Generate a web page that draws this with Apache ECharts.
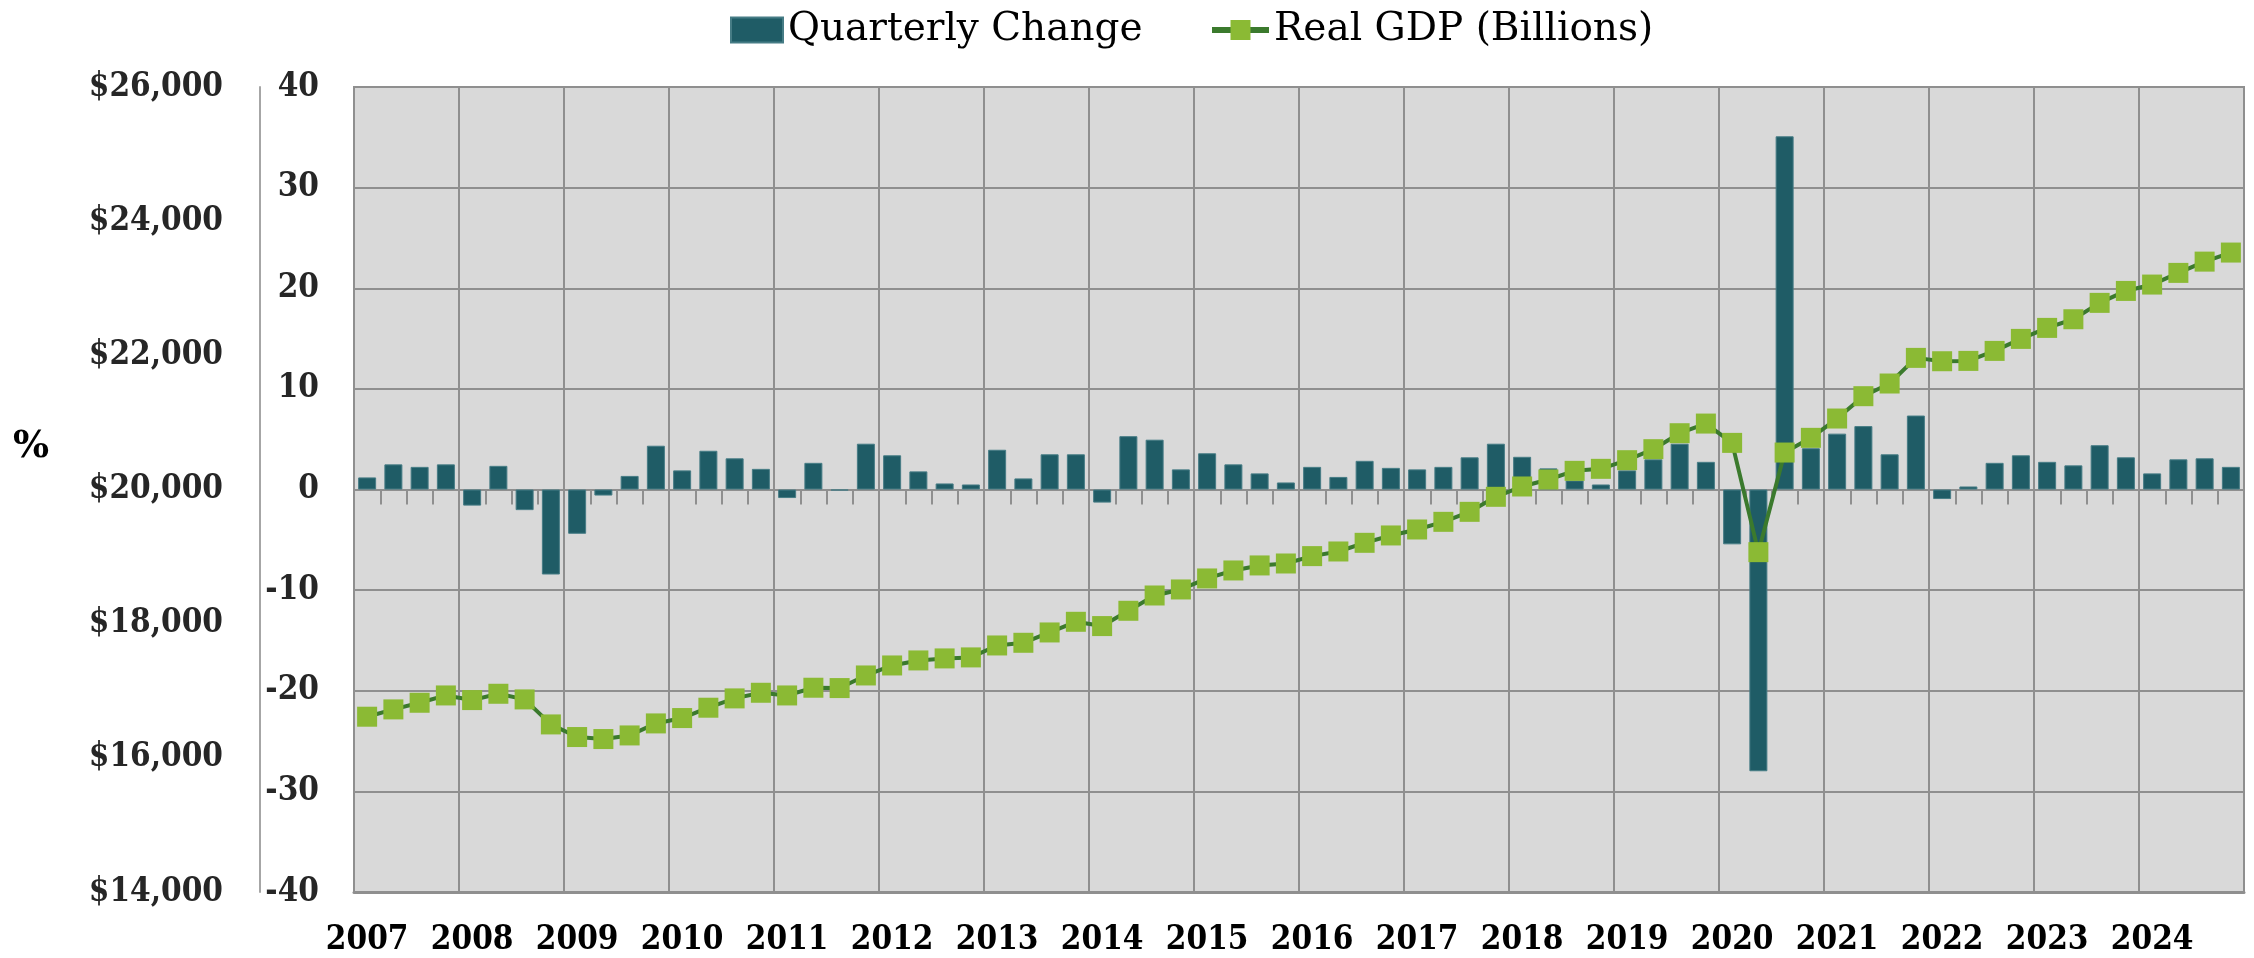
<!DOCTYPE html>
<html>
<head>
<meta charset="utf-8">
<script src="https://cdn.jsdelivr.net/npm/echarts@6/dist/echarts.min.js"></script>
<style>
  html, body { margin: 0; padding: 0; background: #fff; }
  #chart { width: 2254px; height: 958px; }
</style>
</head>
<body>
<div id="chart"></div>
<script>
const years = ["2007", "2008", "2009", "2010", "2011", "2012", "2013", "2014", "2015",
  "2016", "2017", "2018", "2019", "2020", "2021", "2022", "2023", "2024"];
const quarterNames = ["Q1", "Q2", "Q3", "Q4"];

// annualized quarterly change, %
const quarterlyChange = [
  1.2, 2.5, 2.25, 2.5,
  -1.6, 2.35, -2.05, -8.45,
  -4.4, -0.6, 1.35, 4.35,
  1.9, 3.85, 3.1, 2.05,
  -0.85, 2.65, -0.1, 4.55,
  3.4, 1.8, 0.6, 0.5,
  3.95, 1.1, 3.5, 3.5,
  -1.3, 5.3, 4.95, 2.0,
  3.6, 2.5, 1.6, 0.7,
  2.25, 1.25, 2.85, 2.15,
  2.0, 2.25, 3.2, 4.55,
  3.25, 2.1, 0.9, 0.5,
  1.9, 3.0, 4.55, 2.75,
  -5.45, -28.0, 35.1, 4.1,
  5.55, 6.3, 3.5, 7.35,
  -0.95, 0.3, 2.65, 3.4,
  2.75, 2.4, 4.4, 3.2,
  1.6, 3.0, 3.1, 2.25,
];

// real GDP, billions of dollars
const realGdp = [
  16613, 16722, 16821, 16930,
  16861, 16955, 16871, 16498,
  16310, 16280, 16334, 16513,
  16593, 16747, 16886, 16970,
  16930, 17045, 17040, 17228,
  17377, 17452, 17482, 17497,
  17675, 17715, 17869, 18028,
  17964, 18192, 18420, 18510,
  18674, 18793, 18868, 18897,
  19007, 19076, 19205, 19315,
  19404, 19518, 19667, 19891,
  20045, 20149, 20278, 20308,
  20437, 20601, 20839, 20983,
  20695, 19066, 20551, 20770,
  21058, 21391, 21580, 21962,
  21912, 21917, 22066, 22245,
  22409, 22538, 22782, 22960,
  23055, 23229, 23397, 23532,
];

const quarters = years.flatMap((y) => quarterNames.map((q) => `${y} ${q}`));

const gridColor = "#8f8f8f";
const labelFont = {
  fontFamily: "'DejaVu Serif Condensed', 'DejaVu Serif'",
  fontWeight: "bold",
  fontSize: 33,
};
const legendText = {
  fontFamily: "DejaVu Serif",
  fontSize: 39,
  color: "#000",
  lineHeight: 40,
};

const chart = echarts.init(document.getElementById("chart"));

chart.setOption({
  animation: false,
  title: {
    text: "%",
    left: 13,
    top: 428,
    padding: 0,
    textStyle: { fontFamily: "DejaVu Serif", fontWeight: "bold", fontSize: 38, color: "#000" },
  },
  legend: [
    {
      data: [{ name: "Quarterly Change", icon: "rect" }],
      left: 730,
      top: 10,
      padding: 0,
      itemWidth: 52,
      itemHeight: 25,
      textStyle: legendText,
    },
    {
      data: ["Real GDP (Billions)"],
      left: 1209,
      top: 10,
      padding: 0,
      itemWidth: 57,
      itemHeight: 25,
      lineStyle: { width: 6 },
      textStyle: legendText,
    },
  ],
  grid: {
    left: 354,
    right: 10,
    top: 87,
    bottom: 66,
    show: true,
    backgroundColor: "#d9d9d9",
    borderColor: gridColor,
    borderWidth: 2,
  },
  xAxis: [
    {
      type: "category",
      data: quarters,
      position: "bottom",
      axisLine: { onZero: false, lineStyle: { color: gridColor, width: 3 } },
      axisTick: { show: false },
      axisLabel: {
        ...labelFont,
        interval: 3,
        margin: 32,
        color: "#000",
        formatter: (v) => v.slice(0, 4),
      },
      splitLine: { show: true, interval: 3, lineStyle: { color: gridColor, width: 2 } },
    },
    {
      type: "category",
      data: quarters,
      position: "bottom",
      axisLine: { onZero: true, onZeroAxisIndex: 0, lineStyle: { color: gridColor, width: 2 } },
      axisTick: { show: true, interval: 0, length: 15, lineStyle: { color: gridColor, width: 2 } },
      axisLabel: { show: false },
      splitLine: { show: false },
    },
  ],
  yAxis: [
    {
      type: "value",
      min: -40,
      max: 40,
      interval: 10,
      position: "left",
      offset: 94,
      axisLine: { show: true, lineStyle: { color: "#a6a6a6", width: 2 } },
      axisTick: { show: false },
      axisLabel: { ...labelFont, inside: true, align: "right", margin: 59, color: "#262626" },
      splitLine: { show: true, lineStyle: { color: gridColor, width: 2 } },
    },
    {
      type: "value",
      min: 14000,
      max: 26000,
      interval: 2000,
      position: "left",
      offset: 0,
      axisLine: { show: false },
      axisTick: { show: false },
      axisLabel: {
        ...labelFont,
        margin: 131,
        color: "#262626",
        formatter: (v) => "$" + v.toLocaleString("en-US"),
      },
      splitLine: { show: false },
    },
  ],
  series: [
    {
      name: "Quarterly Change",
      type: "bar",
      xAxisIndex: 0,
      yAxisIndex: 0,
      data: quarterlyChange,
      barWidth: 18,
      itemStyle: { color: "#1f5c66", borderColor: "#467c85", borderWidth: 1 },
    },
    {
      name: "Real GDP (Billions)",
      type: "line",
      xAxisIndex: 0,
      yAxisIndex: 1,
      data: realGdp,
      symbol: "rect",
      symbolSize: 20,
      showSymbol: true,
      showAllSymbol: true,
      lineStyle: { color: "#3b7a2d", width: 4 },
      itemStyle: { color: "#8bba34" },
      z: 3,
    },
  ],
});

window.addEventListener("resize", () => chart.resize());
</script>
</body>
</html>
